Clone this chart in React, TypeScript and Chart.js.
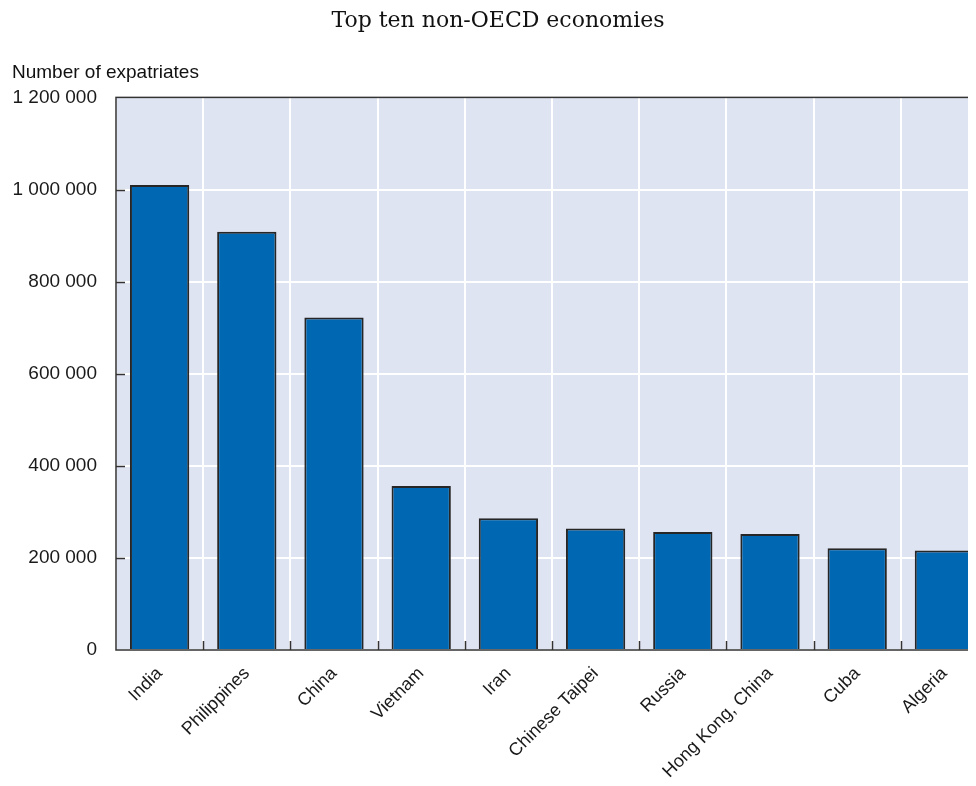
import React, { useEffect, useRef } from "react";
import { Chart, registerables } from "chart.js";

Chart.register(...registerables);

const categories = [
  "India",
  "Philippines",
  "China",
  "Vietnam",
  "Iran",
  "Chinese Taipei",
  "Russia",
  "Hong Kong, China",
  "Cuba",
  "Algeria",
];
const expatriates = [1010000, 908000, 722000, 356000, 286000, 264000, 256000, 252000, 221000, 216000];
const yMin = 0;
const yMax = 1200000;
const yStep = 200000;
const chartTitle = "Top ten non-OECD economies";
const yAxisTitle = "Number of expatriates";

const SANS = "'Liberation Sans', Arial, sans-serif";
const SERIF = "'DejaVu Serif', serif";

const fmt = (v: number) => String(Math.round(v)).replace(/\B(?=(\d{3})+(?!\d))/g, " ");

const framePlugin = {
  id: "frame",
  beforeDraw(chart: any) {
    const { ctx, chartArea } = chart;
    ctx.save();
    ctx.fillStyle = "#dfe4f3";
    ctx.fillRect(chartArea.left, chartArea.top, chartArea.right - chartArea.left, chartArea.bottom - chartArea.top);
    ctx.restore();
  },
  afterDatasetsDraw(chart: any) {
    const { ctx, chartArea, scales } = chart;
    const { left, right, top, bottom } = chartArea;
    ctx.save();
    ctx.strokeStyle = "#333333";
    ctx.lineWidth = 1.5;
    ctx.strokeRect(left, top, right - left, bottom - top);
    // inside ticks
    ctx.lineWidth = 1.5;
    const y = scales.y;
    y.ticks.forEach((t: any) => {
      if (t.value <= yMin || t.value >= yMax) return;
      const py = Math.round(y.getPixelForValue(t.value)) + 0.5;
      ctx.beginPath();
      ctx.moveTo(left, py);
      ctx.lineTo(left + 9, py);
      ctx.stroke();
    });
    const x = scales.x;
    for (let i = 1; i < categories.length; i++) {
      const px = Math.round((x.getPixelForValue(i - 1) + x.getPixelForValue(i)) / 2) + 0.5;
      ctx.beginPath();
      ctx.moveTo(px, bottom);
      ctx.lineTo(px, bottom - 9);
      ctx.stroke();
    }
    // horizontal axis title
    ctx.fillStyle = "#111111";
    ctx.font = `19px ${SANS}`;
    ctx.textAlign = "left";
    ctx.textBaseline = "alphabetic";
    ctx.fillText(yAxisTitle, 4, top - 19);
    ctx.restore();
  },
};

export default function App() {
  const ref = useRef<HTMLCanvasElement | null>(null);

  useEffect(() => {
    if (!ref.current) return;
    const chart = new Chart(ref.current, {
      type: "bar",
      data: {
        labels: categories,
        datasets: [
          {
            data: expatriates,
            backgroundColor: "#0067b2",
            borderColor: "#262626",
            borderWidth: 2,
            barPercentage: 0.68,
            categoryPercentage: 1,
          },
        ],
      },
      options: {
        responsive: false,
        animation: false,
        layout: { padding: { left: 0, right: 5, top: 0, bottom: 0 } },
        plugins: {
          legend: { display: false },
          tooltip: { enabled: false },
          title: {
            display: true,
            text: chartTitle,
            color: "#111111",
            font: { family: SERIF, size: 22, weight: "normal" },
            padding: { top: 0, bottom: 63 },
          },
        },
        scales: {
          x: {
            grid: { color: "#ffffff", lineWidth: 2, drawTicks: false, offset: true },
            border: { display: false },
            ticks: {
              autoSkip: false,
              maxRotation: 45,
              minRotation: 45,
              padding: 13,
              color: "#1a1a1a",
              font: { family: SANS, size: 18 },
            },
            afterFit: (s: any) => {
              s.height = 136;
            },
          },
          y: {
            min: yMin,
            max: yMax,
            grid: { color: "#ffffff", lineWidth: 2, drawTicks: false },
            border: { display: false },
            ticks: {
              stepSize: yStep,
              padding: 19,
              color: "#1a1a1a",
              font: { family: SANS, size: 19 },
              callback: (v: any) => fmt(Number(v)),
            },
            afterFit: (s: any) => {
              s.width = 108;
            },
          },
        },
      },
      plugins: [framePlugin],
    });
    return () => chart.destroy();
  }, []);

  return (
    <div style={{ width: 968, height: 778, overflow: "hidden", marginBottom: -8 }}>
      <canvas ref={ref} width={985} height={778} style={{ display: "block" }} />
    </div>
  );
}
